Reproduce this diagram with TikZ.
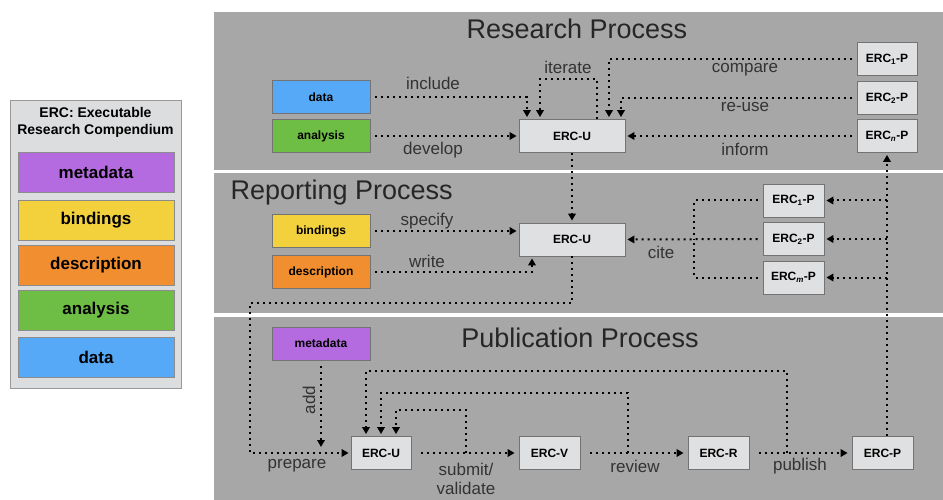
\documentclass[tikz,border=0pt]{standalone}
\usepackage{fontspec}
\setmainfont{Liberation Sans}
\usetikzlibrary{arrows.meta}
\definecolor{panelgray}{HTML}{A6A7A6}
\definecolor{boxgray}{HTML}{DFE0E1}
\definecolor{legendgray}{HTML}{DCDDDE}
\definecolor{metacol}{HTML}{B46BE0}
\definecolor{bindcol}{HTML}{F3D13D}
\definecolor{desccol}{HTML}{F08E30}
\definecolor{anacol}{HTML}{6EBD45}
\definecolor{datacol}{HTML}{55A9F6}
\definecolor{labelcol}{HTML}{333333}

\begin{document}
\begin{tikzpicture}[x=1pt,y=-1pt,
  ercbox/.style={draw=black!55,fill=boxgray,line width=0.8pt,minimum height=33pt,inner sep=0pt,font=\bfseries\fontsize{12}{12}\selectfont},
  partbox/.style={draw=black!55,line width=0.8pt,minimum width=98pt,minimum height=33pt,inner sep=0pt,font=\bfseries\fontsize{12}{12}\selectfont},
  legbox/.style={draw=black!45,line width=0.8pt,minimum width=156pt,minimum height=40pt,inner sep=0pt,font=\bfseries\fontsize{17}{17}\selectfont},
  link/.style={line width=2pt,dash pattern=on 2pt off 4pt},
  flow/.style={link,-{Triangle[length=7pt,width=7.5pt]},shorten >=2pt},
  lbl/.style={text=labelcol,font=\fontsize{17}{19}\selectfont,inner sep=1pt},
  title/.style={text=black!85,font=\fontsize{27}{27}\selectfont}]
  \useasboundingbox[fill=white] (0,0) rectangle (943,500);

  \fill[panelgray] (214,12) rectangle (943,170);
  \fill[panelgray] (214,173) rectangle (943,313);
  \fill[panelgray] (214,317) rectangle (943,500);
  \node[title] (ttlres) at (577,29) {Research Process};
  \node[title,anchor=west] (ttlrep) at (227,193) {Reporting Process};
  \node[title] (ttlpub) at (580,338) {Publication Process};

  % legend
  \node[draw=black!40,fill=legendgray,line width=0.8pt,minimum width=171pt,minimum height=288pt,inner sep=0pt] (legend) at (95.5,244) {};
  \node[font=\bfseries\fontsize{14}{17}\selectfont,align=center] (legtitle) at (95.5,122) {ERC: Executable\\Research Compendium};
  \foreach \y/\col/\name/\txt in {172/metacol/lmeta/metadata, 220/bindcol/lbind/bindings, 265/desccol/ldesc/description, 310/anacol/lana/analysis, 357/datacol/ldata/data}
    \node[legbox,fill=\col] (\name) at (96,\y) {\txt};

  % research
  \node[partbox,fill=datacol] (rdata) at (321,97) {data};
  \node[partbox,fill=anacol] (rana) at (321,136) {analysis};
  \node[ercbox,minimum width=106pt] (resU) at (572,136) {ERC-U};
  \node[ercbox,minimum width=60pt] (resP1) at (887,59) {ERC\textsubscript{1}-P};
  \node[ercbox,minimum width=60pt] (resP2) at (887,98) {ERC\textsubscript{2}-P};
  \node[ercbox,minimum width=60pt] (resPn) at (887,136) {ERC\textsubscript{\itshape n}-P};

  \draw[flow,shorten <=5pt] (rdata.east) -| ([xshift=-45pt]resU.north);
  \draw[flow,shorten <=5pt] (rana.east) -- (resU.west);
  \draw[flow] ([xshift=25pt]resU.north) -- ++(0,-40) -| ([xshift=-32pt]resU.north);
  \draw[flow,shorten <=5pt] (resP1.west) -| ([xshift=37pt]resU.north);
  \draw[flow,shorten <=5pt] (resP2.west) -| ([xshift=49pt]resU.north);
  \draw[flow,shorten <=5pt] (resPn.west) -- (resU.east);
  \node[lbl] (linclude) at (433,83) {include};
  \node[lbl] (ldevelop) at (433,150) {develop};
  \node[lbl] (literate) at (568,67) {iterate};
  \node[lbl] (lcompare) at (745,70) {compare};
  \node[lbl] (lreuse) at (745,107) {re-use};
  \node[lbl] (linform) at (745,149) {inform};

  % reporting
  \node[partbox,fill=bindcol] (pbind) at (321,231) {bindings};
  \node[partbox,fill=desccol] (pdesc) at (321,272) {description};
  \node[ercbox,minimum width=106pt] (repU) at (572,239.5) {ERC-U};
  \node[ercbox,minimum width=61pt] (repP1) at (793.5,200.5) {ERC\textsubscript{1}-P};
  \node[ercbox,minimum width=61pt] (repP2) at (793.5,239) {ERC\textsubscript{2}-P};
  \node[ercbox,minimum width=61pt] (repPm) at (793.5,277.5) {ERC\textsubscript{\itshape m}-P};
  \coordinate (citebus) at (694,239);
  \coordinate (prepcorner) at (250,303);

  \draw[flow] (resU.south) -- (repU.north);
  \draw[flow,shorten <=5pt] (pbind.east) -- (pbind.east -| repU.west);
  \draw[flow,shorten <=5pt] (pdesc.east) -| ([xshift=-40pt]repU.south);
  \draw[link,shorten <=5pt] (repP1.west) -| (citebus);
  \draw[link,shorten <=5pt] (repPm.west) -| (citebus);
  \draw[flow,shorten <=5pt] (repP2.west) -- (repU.east);
  \node[lbl] (lspecify) at (427,221) {specify};
  \node[lbl] (lwrite) at (427,261) {write};
  \node[lbl] (lcite) at (661,252) {cite};

  % publication
  \node[partbox,fill=metacol] (pmeta) at (321,343.5) {metadata};
  \node[ercbox,minimum width=60pt] (pubU) at (381,453) {ERC-U};
  \node[ercbox,minimum width=61pt] (pubV) at (549.5,453) {ERC-V};
  \node[ercbox,minimum width=61pt] (pubR) at (718.5,453) {ERC-R};
  \node[ercbox,minimum width=61pt] (pubP) at (882.5,453) {ERC-P};
  \coordinate (subfork) at (466,453);
  \coordinate (revfork) at (628,453);
  \coordinate (pubfork) at (787,453);

  \draw[flow] (repU.south) |- (prepcorner) |- (pubU.west);
  \draw[flow,shorten <=6pt,shorten >=6pt] (pmeta.south) -- (pmeta.south |- pubU.west);
  \draw[flow,shorten <=10pt,shorten >=4pt] (pubU.east) -- (pubV.west);
  \draw[flow,shorten <=10pt,shorten >=4pt] (pubV.east) -- (pubR.west);
  \draw[flow,shorten <=10pt,shorten >=4pt] (pubR.east) -- (pubP.west);
  \draw[flow] (subfork) -- ++(0,-43) -| ([xshift=15pt]pubU.north);
  \draw[flow] (revfork) -- ++(0,-60) -| (pubU.north);
  \draw[flow] (pubfork) -- ++(0,-82) -| ([xshift=-15pt]pubU.north);
  \draw[flow] (resPn.south |- pubP.north) -- (resPn.south);
  \foreach \n in {repP1,repP2,repPm}
    \draw[flow] (resPn.south |- \n.east) -- (\n.east);
  \node[lbl,rotate=90] (ladd) at (309,400) {add};
  \node[lbl] (lprepare) at (297,466) {prepare};
  \node[lbl,align=center] (lsubmit) at (466,479) {submit/\\validate};
  \node[lbl] (lreview) at (635,466) {review};
  \node[lbl] (lpublish) at (800,466) {publish};
\end{tikzpicture}
\end{document}
